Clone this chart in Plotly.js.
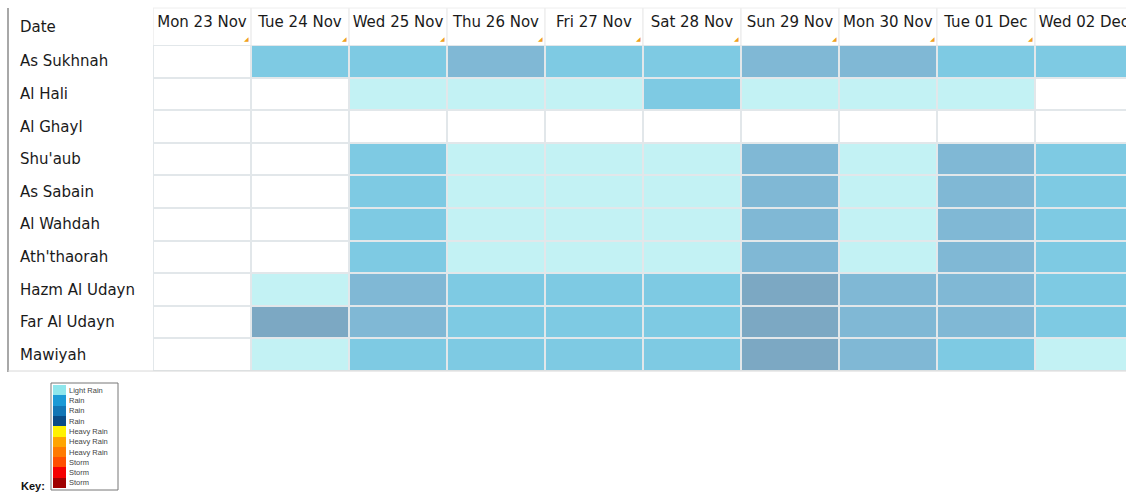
<!DOCTYPE html>
<html>
<head>
<meta charset="utf-8">
<script src="https://cdn.plot.ly/plotly-3.0.1.min.js"></script>
<style>html,body{margin:0;padding:0;background:#fff;}#chart{width:1126px;height:494px;}</style>
</head>
<body>
<div id="chart"></div>
<script>
// ---- data ----
const dates = ['Mon 23 Nov','Tue 24 Nov','Wed 25 Nov','Thu 26 Nov','Fri 27 Nov','Sat 28 Nov','Sun 29 Nov','Mon 30 Nov','Tue 01 Dec','Wed 02 Dec'];
const locations = ['As Sukhnah','Al Hali','Al Ghayl',"Shu'aub",'As Sabain','Al Wahdah',"Ath'thaorah",'Hazm Al Udayn','Far Al Udayn','Mawiyah'];
// rain level per day: 0 none, 1 light rain, 2-4 rain (lighter to darker)
const asSukhnah  = [0,2,2,3,2,2,3,3,2,2];
const alHali     = [0,0,1,1,1,2,1,1,1,0];
const alGhayl    = [0,0,0,0,0,0,0,0,0,0];
const shuaub     = [0,0,2,1,1,1,3,1,3,2];
const asSabain   = [0,0,2,1,1,1,3,1,3,2];
const alWahdah   = [0,0,2,1,1,1,3,1,3,2];
const aththaorah = [0,0,2,1,1,1,3,1,3,2];
const hazmAlUdayn= [0,1,3,2,2,2,4,3,3,2];
const farAlUdayn = [0,4,3,2,2,2,4,3,3,2];
const mawiyah    = [0,1,2,2,2,2,4,3,2,1];
const levelColors = ['#ffffff','#c3f2f4','#7ecae3','#80b8d5','#7ca8c3'];

const keyLabels = ['Light Rain','Rain','Rain','Rain','Heavy Rain','Heavy Rain','Heavy Rain','Storm','Storm','Storm'];
const keyColors = ['#8ee6ec','#1b9ad6','#1376b5','#0b4c86','#fff200','#ffa400','#ff7a00','#ff4f00','#f50000','#a00000'];

// ---- helpers ----
const W = 1126, H = 494;
const px = v => v / W;
const py = v => 1 - v / H;
function discreteScale(colors){
  const n = colors.length, s = [];
  colors.forEach((c,i)=>{ s.push([i/n, c]); s.push([(i+1)/n, c]); });
  return s;
}

const z = [asSukhnah, alHali, alGhayl, shuaub, asSabain, alWahdah, aththaorah, hazmAlUdayn, farAlUdayn, mawiyah];

const mainFont = {family:'DejaVu Sans, Verdana, sans-serif', size:15, color:'#1a1a1a'};

const traces = [
  {
    type:'heatmap', x:dates, y:locations, z:z,
    zmin:-0.5, zmax:levelColors.length-0.5,
    colorscale:discreteScale(levelColors), showscale:false,
    xgap:2, ygap:2, hoverinfo:'x+y', xaxis:'x', yaxis:'y'
  },
  {
    type:'heatmap', x:[0], y:keyLabels.map((_,i)=>i), z:keyLabels.map((_,i)=>[i]),
    zmin:-0.5, zmax:keyColors.length-0.5,
    colorscale:discreteScale(keyColors), showscale:false,
    hoverinfo:'skip', xaxis:'x2', yaxis:'y2'
  }
];

const annotations = [];
annotations.push({xref:'paper', yref:'paper', x:px(18), y:py(27), xanchor:'left', yanchor:'middle',
  text:'Date', showarrow:false, font:mainFont});
locations.forEach(loc=>{
  annotations.push({xref:'paper', yref:'y', x:px(18), y:loc, xanchor:'left', yanchor:'middle',
    text:loc, showarrow:false, font:mainFont});
});
// small orange corner marks in header
dates.slice(0,-1).forEach((d,i)=>{
  annotations.push({xref:'x', yref:'paper', x:i+0.5, y:py(45), xanchor:'right', yanchor:'bottom',
    text:'◢', showarrow:false, font:{size:6, color:'#f0a020'}});
});
annotations.push({xref:'paper', yref:'paper', x:px(47), y:py(486), xanchor:'right', yanchor:'middle',
  text:'<b>Key:</b>', showarrow:false, font:{family:'Liberation Sans, Arial, sans-serif', size:11, color:'#111'}});

const shapes = [];
// header vertical separators
dates.forEach((d,i)=>{
  shapes.push({type:'line', xref:'x', yref:'paper', x0:i-0.5, x1:i-0.5, y0:py(45), y1:py(8),
    line:{color:'#e8e8e8', width:1.2}});
});
// header top line
shapes.push({type:'line', xref:'paper', yref:'paper', x0:px(153), x1:1, y0:py(8), y1:py(8), line:{color:'#eeeeee', width:1}});
// left border
shapes.push({type:'line', xref:'paper', yref:'paper', x0:px(8), x1:px(8), y0:py(8), y1:py(372), line:{color:'#a8a8a8', width:2}});
// bottom line
shapes.push({type:'line', xref:'paper', yref:'paper', x0:px(8), x1:1, y0:py(371), y1:py(371), line:{color:'#d8d8d8', width:1}});
// key box
shapes.push({type:'rect', xref:'paper', yref:'paper', x0:px(51), x1:px(118), y0:py(490), y1:py(383), line:{color:'#777', width:1}, fillcolor:'rgba(0,0,0,0)'});

const layout = {
  width:W, height:H,
  margin:{l:0, r:0, t:0, b:0},
  paper_bgcolor:'#ffffff', plot_bgcolor:'#e2e7ea',
  showlegend:false,
  xaxis:{domain:[px(153),1], type:'category', range:[-0.5, 9.43], side:'top', ticks:'',
    showgrid:false, zeroline:false, showline:false, automargin:false, fixedrange:true,
    ticklabelstandoff:14, tickfont:mainFont},
  yaxis:{domain:[py(371), py(45)], type:'category', autorange:'reversed', showticklabels:false,
    showgrid:false, zeroline:false, showline:false, ticks:'', automargin:false, fixedrange:true},
  xaxis2:{domain:[px(53), px(66)], anchor:'y2', showticklabels:false, showgrid:false, zeroline:false,
    ticks:'', fixedrange:true},
  yaxis2:{domain:[py(488), py(385)], anchor:'x2', side:'right', autorange:'reversed',
    tickvals:keyLabels.map((_,i)=>i), ticktext:keyLabels, ticks:'', showgrid:false, zeroline:false,
    ticklabelstandoff:2, tickfont:{family:'Liberation Sans, Arial, sans-serif', size:7.5, color:'#444'},
    automargin:false, fixedrange:true},
  annotations:annotations,
  shapes:shapes
};

Plotly.newPlot('chart', traces, layout, {displayModeBar:false, staticPlot:true});
</script>
</body>
</html>
